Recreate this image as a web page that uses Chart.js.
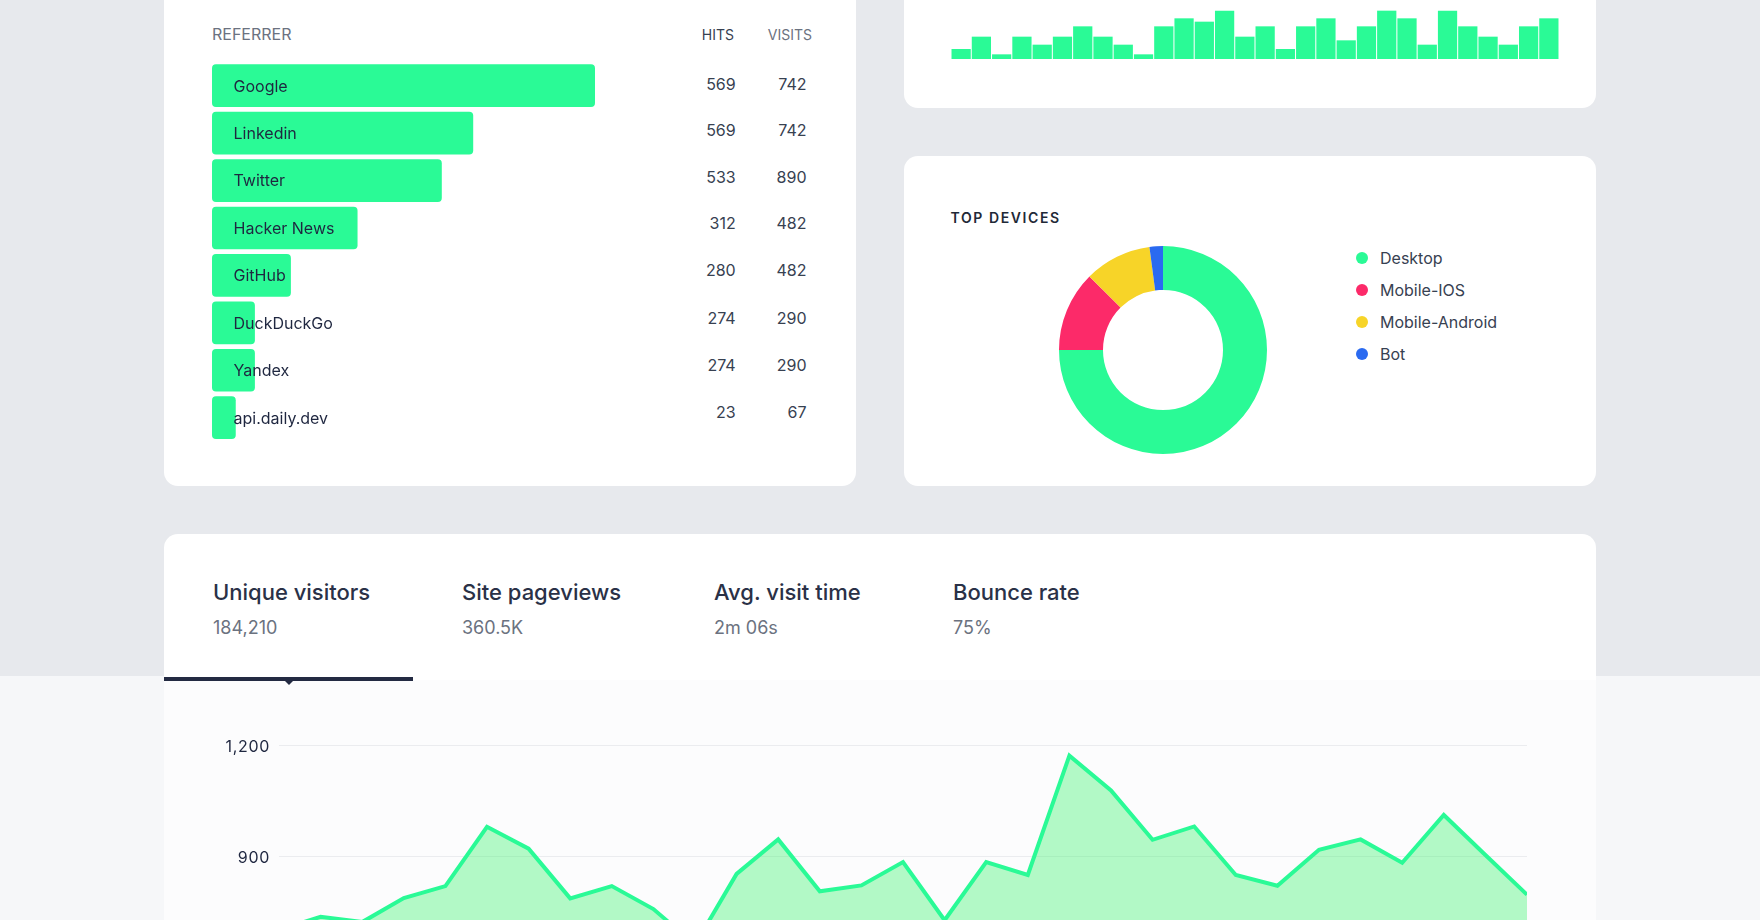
<!DOCTYPE html>
<html>
<head>
<meta charset="utf-8">
<script src="https://cdn.jsdelivr.net/npm/chart.js@4/dist/chart.umd.min.js"></script>
<style>
    html, body { margin: 0; padding: 0; }
    body { width: 1760px; height: 920px; overflow: hidden; position: relative; font-family: 'Inter', sans-serif; background: #f6f7f9; color: #1f2937; }
    .band { position: absolute; left: 0; top: 0; width: 1760px; height: 676px; background: #e7e9ed; }
    .card { position: absolute; background: #fff; border-radius: 14px; }
    .lower { position: absolute; left: 164px; top: 680px; width: 1432px; height: 240px; background: #fcfcfd; }
    .txt { position: absolute; white-space: nowrap; line-height: 20px; }
    .holder { position: absolute; }
    .holder canvas { display: block; }
    .dot { position: absolute; width: 12px; height: 12px; border-radius: 50%; }
    .tab-title { font-size: 22px; font-weight: 500; color: #2a3147; line-height: 30px; }
    .tab-sub { font-size: 18px; color: #6b7280; line-height: 24px; }
    .underline { position: absolute; left: 164px; top: 677px; width: 249px; height: 4px; background: #232a42; }
    .arrow { position: absolute; left: 284px; top: 680px; width: 0; height: 0; border-left: 5px solid transparent; border-right: 5px solid transparent; border-top: 5px solid #232a42; }
</style>
</head>
<body>
    <div class="band"></div>
    <div class="card" style="left:164px; top:-30px; width:692px; height:516px;"></div>
    <div class="card" style="left:904px; top:-30px; width:692px; height:138px;"></div>
    <div class="card" style="left:904px; top:156px; width:692px; height:330px;"></div>
    <div class="card" style="left:164px; top:534px; width:1432px; height:300px;"></div>
    <div class="lower"></div>
    <div class="underline"></div>
    <div class="arrow"></div>

    <div class="txt" style="left:212px; top:24px; font-size:16px; color:#6b7280;">REFERRER</div>
    <div class="txt" style="right:1026px; top:25px; font-size:14px; color:#374151;">HITS</div>
    <div class="txt" style="right:948px; top:25px; font-size:14px; color:#6b7280;">VISITS</div>
    <div class="txt" style="left:950.5px; top:208px; font-size:14px; font-weight:600; letter-spacing:1.6px; color:#1f2937;">TOP DEVICES</div>

    <div id="rows"></div>
    <div id="legend"></div>
    <div id="tabs"></div>

    <div class="holder" style="left:212px; top:61.6px; width:383px; height:379.4px;"><canvas id="referrerChart"></canvas></div>
    <div class="holder" style="left:951.2px; top:10px; width:608px; height:49px;"><canvas id="hourlyChart"></canvas></div>
    <div class="holder" style="left:1058.7px; top:246px; width:208px; height:208px;"><canvas id="devicesChart"></canvas></div>
    <div class="holder" style="left:200px; top:735px; width:1327px; height:455px;"><canvas id="visitorsChart"></canvas></div>

<script>
const referrers = ['Google', 'Linkedin', 'Twitter', 'Hacker News', 'GitHub', 'DuckDuckGo', 'Yandex', 'api.daily.dev'];
const referrerShare = [100, 68.2, 60, 38, 20.6, 11.2, 11.2, 6.2];
const hits = [569, 569, 533, 312, 280, 274, 274, 23];
const visits = [742, 742, 890, 482, 482, 290, 290, 67];

const hourlyLabels = ['1', '2', '3', '4', '5', '6', '7', '8', '9', '10', '11', '12', '13', '14', '15', '16', '17', '18', '19', '20', '21', '22', '23', '24', '25', '26', '27', '28', '29', '30'];
const hourlyValues = [30, 67, 14, 67, 43, 67, 98, 67, 43, 14, 98, 122, 112, 145, 67, 98, 30, 98, 122, 56, 98, 145, 122, 43, 145, 98, 67, 43, 98, 122];

const devices = ['Desktop', 'Mobile-IOS', 'Mobile-Android', 'Bot'];
const deviceValues = [72, 12, 10, 2];

const tabTitles = ['Unique visitors', 'Site pageviews', 'Avg. visit time', 'Bounce rate'];
const tabValues = ['184,210', '360.5K', '2m 06s', '75%'];

const visitorLabels = ['1', '2', '3', '4', '5', '6', '7', '8', '9', '10', '11', '12', '13', '14', '15', '16', '17', '18', '19', '20', '21', '22', '23', '24', '25', '26', '27', '28', '29', '30', '31'];
const visitorValues = [702, 737, 723, 788, 820, 980, 921, 787, 820, 758, 662, 853, 946, 806, 822, 885, 728, 885, 850, 1172, 1078, 945, 981, 850, 821, 918, 946, 883, 1012, 904, 797];

const colors = {
    green: '#2afa96',
    red: '#fc2a69',
    yellow: '#f7d428',
    blue: '#2a6af0',
    text: '#1f2740',
    grid: '#ebecef'
};
const deviceColors = [colors.green, colors.red, colors.yellow, colors.blue];

// page layout, not data
const rowCenters = [84, 130.3, 176.7, 222.7, 270, 317.6, 365, 412];
const legendCenters = [258, 290, 322, 354];
const tabLefts = [213, 462, 714, 953];

Chart.defaults.font.family = "'Inter', sans-serif";
Chart.defaults.animation = false;
Chart.defaults.maintainAspectRatio = false;
Chart.defaults.plugins.legend.display = false;
Chart.defaults.plugins.tooltip.enabled = false;

function addText(parent, text, style, cls) {
    const el = document.createElement('div');
    el.className = cls || 'txt';
    el.style.cssText = style;
    el.textContent = text;
    parent.appendChild(el);
}

// Table numbers
const rowsEl = document.getElementById('rows');
referrers.forEach((name, i) => {
    const top = rowCenters[i] - 10;
    addText(rowsEl, hits[i], `right:${1760 - 735.7}px; top:${top}px; font-size:16px; color:#374151;`);
    addText(rowsEl, visits[i], `right:${1760 - 806.5}px; top:${top}px; font-size:16px; color:#374151;`);
});

// Device legend
const legendEl = document.getElementById('legend');
devices.forEach((name, i) => {
    const dot = document.createElement('div');
    dot.className = 'dot';
    dot.style.cssText = `left:1356px; top:${legendCenters[i] - 6}px; background:${deviceColors[i]};`;
    legendEl.appendChild(dot);
    addText(legendEl, name, `left:1380px; top:${legendCenters[i] - 10}px; font-size:16px; color:#374151;`);
});

// Metric tabs
const tabsEl = document.getElementById('tabs');
tabTitles.forEach((title, i) => {
    addText(tabsEl, title, `position:absolute; white-space:nowrap; left:${tabLefts[i]}px; top:577px;`, 'tab-title');
    addText(tabsEl, tabValues[i], `position:absolute; white-space:nowrap; left:${tabLefts[i]}px; top:616px;`, 'tab-sub');
});

// Writes the referrer names over the bars, they run past the short ones
const barNames = {
    id: 'barNames',
    afterDatasetsDraw(chart) {
        const ctx = chart.ctx;
        ctx.save();
        ctx.font = "16px 'Inter', sans-serif";
        ctx.fillStyle = colors.text;
        ctx.textBaseline = 'middle';
        chart.getDatasetMeta(0).data.forEach((bar, i) => {
            ctx.fillText(referrers[i], bar.base + 21.5, bar.y + 1);
        });
        ctx.restore();
    }
};

// Axis numbers are spaced out a little in the original
const tickSpacing = {
    id: 'tickSpacing',
    beforeDraw(chart) {
        chart.ctx.letterSpacing = '0.7px';
    }
};

// --- REFERRER BARS ---
new Chart(document.getElementById('referrerChart'), {
    type: 'bar',
    data: {
        labels: referrers,
        datasets: [{
            data: referrerShare,
            backgroundColor: colors.green,
            borderRadius: 4,
            borderSkipped: false,
            barPercentage: 0.9,
            categoryPercentage: 1
        }]
    },
    options: {
        indexAxis: 'y',
        layout: { padding: 0 },
        scales: {
            x: { display: false, min: 0, max: 100 },
            y: { display: false }
        }
    },
    plugins: [barNames]
});

// --- SMALL BARS ---
new Chart(document.getElementById('hourlyChart'), {
    type: 'bar',
    data: {
        labels: hourlyLabels,
        datasets: [{
            data: hourlyValues,
            backgroundColor: colors.green,
            barPercentage: 0.95,
            categoryPercentage: 1
        }]
    },
    options: {
        layout: { padding: 0 },
        scales: {
            x: { display: false },
            y: { display: false, min: 0, max: 147 }
        }
    }
});

// --- DEVICES DONUT ---
new Chart(document.getElementById('devicesChart'), {
    type: 'doughnut',
    data: {
        labels: devices,
        datasets: [{
            data: deviceValues,
            backgroundColor: deviceColors,
            borderWidth: 0,
            hoverOffset: 0
        }]
    },
    options: { cutout: '57.7%', layout: { padding: 0 } }
});

// --- VISITORS LINE ---
new Chart(document.getElementById('visitorsChart'), {
    type: 'line',
    data: {
        labels: visitorLabels,
        datasets: [{
            data: visitorValues,
            borderColor: colors.green,
            backgroundColor: 'rgba(67, 244, 115, 0.4)',
            borderWidth: 4,
            pointRadius: 0,
            fill: true,
            tension: 0
        }]
    },
    options: {
        layout: { padding: { top: 10.3 } },
        scales: {
            x: { display: false },
            y: {
                min: 0,
                max: 1200,
                afterFit: (scale) => {
                    scale.width = 79;
                    scale.paddingTop = 0;
                    scale.paddingBottom = 0;
                },
                grid: { color: colors.grid, drawTicks: false },
                border: { display: false },
                ticks: { stepSize: 300, padding: 9, labelOffset: 1.5, color: colors.text, font: { size: 16 } }
            }
        }
    },
    plugins: [tickSpacing]
});
</script>
</body>
</html>
